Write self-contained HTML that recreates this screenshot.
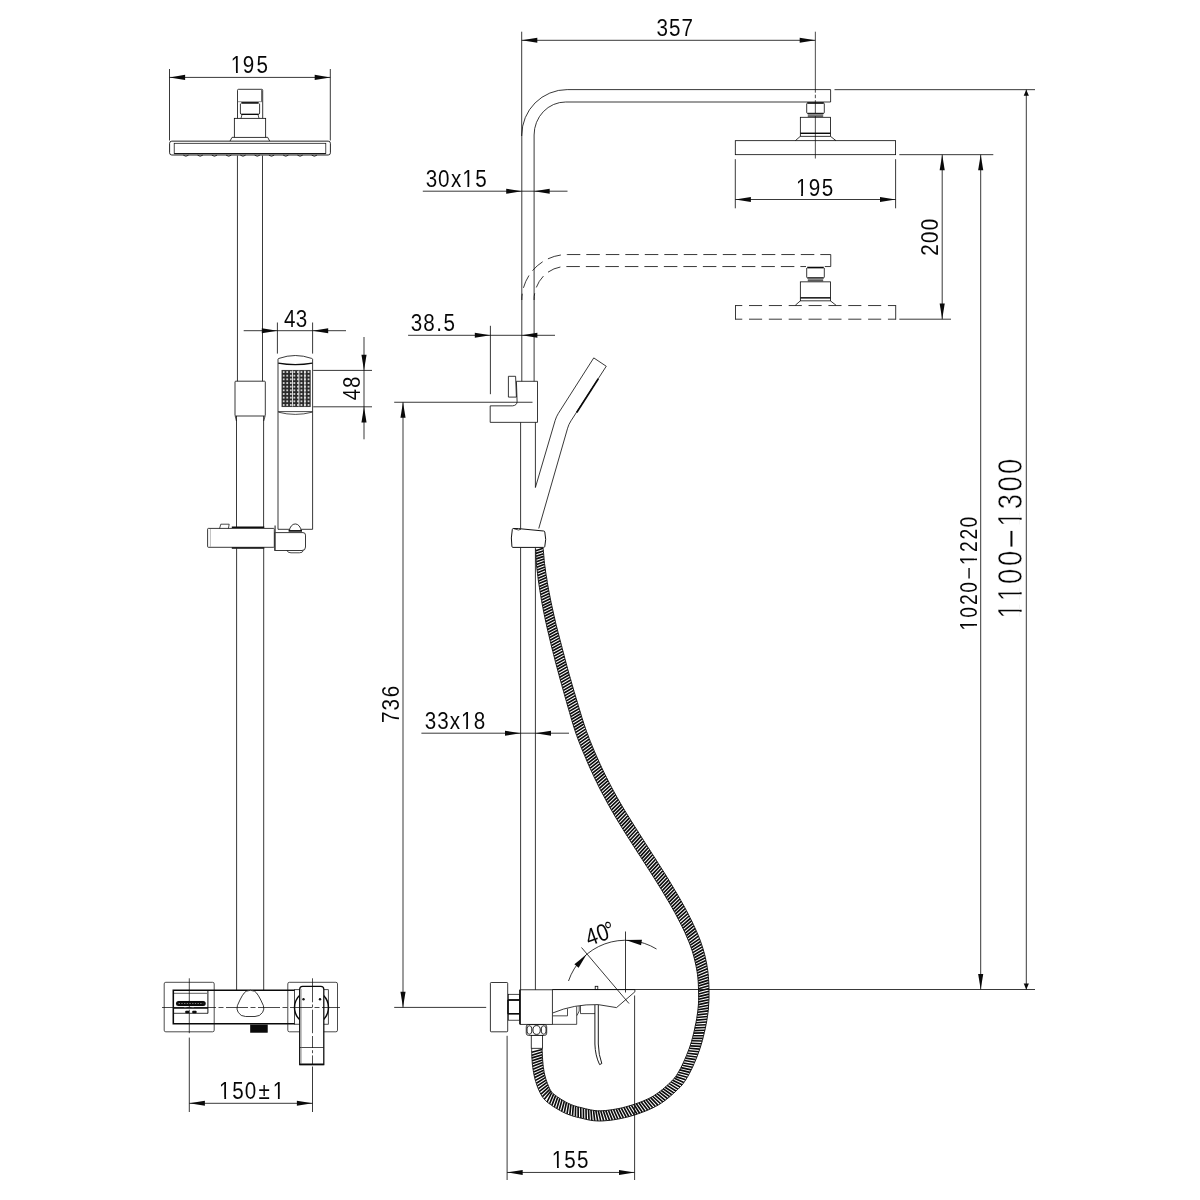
<!DOCTYPE html>
<html lang="en">
<head>
<meta charset="utf-8">
<title>Shower column dimensions</title>
<style>
html,body{margin:0;padding:0;background:#fff;}
body{width:1200px;height:1200px;overflow:hidden;}
svg{display:block;will-change:transform;}
svg text{font-family:'Liberation Sans','DejaVu Sans',sans-serif;paint-order:fill stroke;}
</style>
</head>
<body>
<svg width="1200" height="1200" viewBox="0 0 1200 1200" role="img" aria-label="Shower column with mixer: front and side view with dimensions">
<rect x="0" y="0" width="1200" height="1200" fill="#fff"/>
<g id="front-view">
<line x1="169.5" y1="69" x2="169.5" y2="140.5" stroke="#0c0c0c" stroke-width="0.82"/>
<line x1="330.3" y1="69" x2="330.3" y2="140.5" stroke="#0c0c0c" stroke-width="0.82"/>
<line x1="169.5" y1="77.4" x2="330.3" y2="77.4" stroke="#0c0c0c" stroke-width="0.82"/>
<polygon points="169.5,77.4 185.1,74.85 185.1,79.95" fill="#0a0a0a"/>
<polygon points="330.3,77.4 314.7,79.95 314.7,74.85" fill="#0a0a0a"/>
<g transform="translate(0 73.2)">
<text transform="scale(0.86 1)" x="275.05 289.07 304.88" font-size="24" text-anchor="middle" fill="#050505" stroke="#fff" stroke-width="0.04">195</text>
<rect x="231.21" y="-2.24" width="4.8" height="2.84" fill="#fff"/>
<rect x="237.8" y="-2.24" width="4.42" height="2.84" fill="#fff"/>
</g>
<path d="M237.5 118.3 L237.5 90.3 Q237.5 89.3 238.5 89.3 L261.7 89.3 Q262.7 89.3 262.7 90.3 L262.7 118.3" fill="none" stroke="#0c0c0c" stroke-width="0.82"/>
<line x1="261.6" y1="89.8" x2="261.6" y2="101.6" stroke="#0c0c0c" stroke-width="0.66"/>
<line x1="237.6" y1="101.7" x2="262.6" y2="101.7" stroke="#555" stroke-width="0.66"/>
<line x1="241.3" y1="102.9" x2="258.7" y2="102.9" stroke="#0a0a0a" stroke-width="1.65"/>
<path d="M240.4 103.6 L240.4 113 Q240.4 114.3 241.6 114.3 L258.4 114.3 Q259.6 114.3 259.6 113 L259.6 103.6" fill="none" stroke="#0c0c0c" stroke-width="0.82"/>
<line x1="241.4" y1="114.4" x2="258.6" y2="114.4" stroke="#0c0c0c" stroke-width="1.26"/>
<path d="M242 114.6 L241 118.3 M258 114.6 L259 118.3" fill="none" stroke="#0c0c0c" stroke-width="0.74"/>
<rect x="234.35" y="118.35" width="31.3" height="19" fill="none" stroke="#0c0c0c" stroke-width="0.82"/>
<path d="M232 137.35 L230 141.1 M267.7 137.35 L269.7 141.1 M232 137.35 L234.3 137.35 M265.7 137.35 L267.7 137.35" fill="none" stroke="#0c0c0c" stroke-width="0.82"/>
<rect x="169.6" y="141.15" width="160.8" height="13.85" rx="2.2" fill="none" stroke="#0c0c0c" stroke-width="0.9"/>
<rect x="174.2" y="143.3" width="151.6" height="10.2" fill="none" stroke="#0c0c0c" stroke-width="0.74"/>
<line x1="174.2" y1="153.7" x2="325.8" y2="153.7" stroke="#0c0c0c" stroke-width="0.98"/>
<path d="M183.3 155.2 Q185.9 157.3 188.5 155.2" fill="none" stroke="#0c0c0c" stroke-width="0.82"/>
<path d="M197.57 155.2 Q200.17 157.3 202.77 155.2" fill="none" stroke="#0c0c0c" stroke-width="0.82"/>
<path d="M211.84 155.2 Q214.44 157.3 217.04 155.2" fill="none" stroke="#0c0c0c" stroke-width="0.82"/>
<path d="M226.11 155.2 Q228.71 157.3 231.31 155.2" fill="none" stroke="#0c0c0c" stroke-width="0.82"/>
<path d="M240.38 155.2 Q242.98 157.3 245.58 155.2" fill="none" stroke="#0c0c0c" stroke-width="0.82"/>
<path d="M254.65 155.2 Q257.25 157.3 259.85 155.2" fill="none" stroke="#0c0c0c" stroke-width="0.82"/>
<path d="M268.92 155.2 Q271.52 157.3 274.12 155.2" fill="none" stroke="#0c0c0c" stroke-width="0.82"/>
<path d="M283.19 155.2 Q285.79 157.3 288.39 155.2" fill="none" stroke="#0c0c0c" stroke-width="0.82"/>
<path d="M297.46 155.2 Q300.06 157.3 302.66 155.2" fill="none" stroke="#0c0c0c" stroke-width="0.82"/>
<path d="M311.73 155.2 Q314.33 157.3 316.93 155.2" fill="none" stroke="#0c0c0c" stroke-width="0.82"/>
<line x1="237.45" y1="155.6" x2="237.45" y2="381.2" stroke="#0c0c0c" stroke-width="0.82"/>
<line x1="262.5" y1="155.6" x2="262.5" y2="381.2" stroke="#0c0c0c" stroke-width="0.82"/>
<rect x="235" y="381.2" width="30.3" height="34.8" rx="0.8" fill="none" stroke="#0c0c0c" stroke-width="0.82"/>
<path d="M235.2 416 L236.4 421 M265.1 416 L263.7 421" fill="none" stroke="#0c0c0c" stroke-width="0.74"/>
<line x1="236.5" y1="416" x2="236.5" y2="527" stroke="#0c0c0c" stroke-width="0.82"/>
<line x1="263.6" y1="416" x2="263.6" y2="527" stroke="#0c0c0c" stroke-width="0.82"/>
<line x1="236.6" y1="548.3" x2="236.6" y2="990" stroke="#0c0c0c" stroke-width="0.82"/>
<line x1="263.7" y1="548.3" x2="263.7" y2="990" stroke="#0c0c0c" stroke-width="0.82"/>
<rect x="207.6" y="528.4" width="66.7" height="18.9" rx="0.8" fill="none" stroke="#0c0c0c" stroke-width="0.82"/>
<path d="M219.6 528.4 L220.8 524.2 L229.2 524.2 L228.4 528.4" fill="none" stroke="#0c0c0c" stroke-width="0.74"/>
<line x1="231.8" y1="527.3" x2="264.3" y2="527.3" stroke="#0c0c0c" stroke-width="1.46"/>
<line x1="231.8" y1="547.9" x2="264.3" y2="547.9" stroke="#0c0c0c" stroke-width="1.46"/>
<line x1="210.4" y1="529" x2="210.4" y2="546.8" stroke="#777" stroke-width="0.49"/>
<path d="M274.6 532.6 L303 532.6 Q305.5 532.6 305.5 535.1 L305.5 547 Q305.5 550.5 302 550.5 L274.6 550.5 Z" fill="none" stroke="#0c0c0c" stroke-width="0.82"/>
<line x1="275.1" y1="525.5" x2="275.1" y2="550.5" stroke="#444" stroke-width="1.26"/>
<path d="M289.3 531 A6 8.1 0 0 1 301.2 531" fill="none" stroke="#0c0c0c" stroke-width="0.82"/>
<line x1="288.6" y1="530.9" x2="302" y2="530.9" stroke="#0a0a0a" stroke-width="1.65"/>
<path d="M287 550.5 Q287.6 552.8 291 552.8 L299.4 552.8 Q302.8 552.8 303.3 550.5" fill="none" stroke="#0c0c0c" stroke-width="0.74"/>
<path d="M278 529.3 L278 359.2 Q278 358.7 279 358.4 Q295.3 352.6 311.6 358.4 Q312.6 358.7 312.6 359.2 L312.6 529.3" fill="none" stroke="#0c0c0c" stroke-width="0.82"/>
<line x1="278" y1="529.3" x2="289.6" y2="529.3" stroke="#0c0c0c" stroke-width="0.82"/>
<line x1="301" y1="529.3" x2="312.6" y2="529.3" stroke="#0c0c0c" stroke-width="0.82"/>
<path d="M278.2 363.2 Q295.3 366.2 312.4 363.2" fill="none" stroke="#0c0c0c" stroke-width="1.26"/>
<path d="M278.2 411.6 L312.4 411.6 M278.4 412.2 Q295.3 416.6 312.2 412.2" fill="none" stroke="#0c0c0c" stroke-width="0.74"/>
<defs><pattern id="noz" x="281.9" y="370.2" width="3.55" height="3.66" patternUnits="userSpaceOnUse"><rect x="0" y="0" width="3.55" height="3.66" fill="#2a2a2a"/><rect x="0.95" y="1.0" width="1.75" height="1.75" fill="#fff"/><rect x="1.5" y="1.55" width="0.7" height="0.7" fill="#333"/></pattern></defs>
<rect x="281.9" y="370.2" width="28.4" height="36.6" fill="url(#noz)" stroke="#222" stroke-width="0.49"/>
<line x1="292.5" y1="370.6" x2="292.5" y2="406.4" stroke="#fff" stroke-width="0.82"/>
<line x1="298.9" y1="370.6" x2="298.9" y2="406.4" stroke="#fff" stroke-width="0.82"/>
<line x1="304.9" y1="370.6" x2="304.9" y2="406.4" stroke="#fff" stroke-width="0.82"/>
<line x1="277.4" y1="322.5" x2="277.4" y2="353.6" stroke="#0c0c0c" stroke-width="0.82"/>
<line x1="312.6" y1="322.5" x2="312.6" y2="353.6" stroke="#0c0c0c" stroke-width="0.82"/>
<line x1="243.7" y1="330.7" x2="346" y2="330.7" stroke="#0c0c0c" stroke-width="0.82"/>
<polygon points="277.4,330.7 261.8,333.25 261.8,328.15" fill="#0a0a0a"/>
<polygon points="312.6,330.7 328.2,328.15 328.2,333.25" fill="#0a0a0a"/>
<g transform="translate(0 326.6)">
<text transform="scale(0.86 1)" x="336.86 350.47" font-size="24" text-anchor="middle" fill="#050505" stroke="#fff" stroke-width="0.04">43</text>
</g>
<line x1="313.2" y1="370.4" x2="372" y2="370.4" stroke="#0c0c0c" stroke-width="0.82"/>
<line x1="313.2" y1="406.8" x2="372" y2="406.8" stroke="#0c0c0c" stroke-width="0.82"/>
<line x1="364" y1="337" x2="364" y2="439.3" stroke="#0c0c0c" stroke-width="0.82"/>
<polygon points="364,370.4 361.45,354.8 366.55,354.8" fill="#0a0a0a"/>
<polygon points="364,406.8 366.55,422.4 361.45,422.4" fill="#0a0a0a"/>
<g transform="translate(360.4 0) rotate(-90)">
<text transform="scale(0.86 1)" x="-458.6 -444.53" font-size="24" text-anchor="middle" fill="#050505" stroke="#fff" stroke-width="0.04">48</text>
</g>
<rect x="164.2" y="982.3" width="50" height="49.5" rx="1.6" fill="none" stroke="#0c0c0c" stroke-width="0.74"/>
<rect x="287.8" y="982.3" width="49.7" height="49.5" rx="1.6" fill="none" stroke="#0c0c0c" stroke-width="0.74"/>
<path d="M294.6 990.3 L173.3 990.3 L173.3 1023.8 L294.6 1023.8" fill="none" stroke="#0a0a0a" stroke-width="1.55"/>
<rect x="294.6" y="989.7" width="33.7" height="34.5" fill="none" stroke="#0c0c0c" stroke-width="0.74"/>
<line x1="174" y1="993.3" x2="207" y2="993.3" stroke="#0c0c0c" stroke-width="0.66"/>
<line x1="207.9" y1="990.5" x2="207.9" y2="1013.3" stroke="#0c0c0c" stroke-width="0.98"/>
<line x1="174" y1="1013.3" x2="208" y2="1013.3" stroke="#0c0c0c" stroke-width="0.82"/>
<line x1="174" y1="1008" x2="208" y2="1008" stroke="#0a0a0a" stroke-width="1.46"/>
<rect x="176" y="1001" width="29.7" height="5" rx="2.5" fill="#0c0c0c" stroke="#0c0c0c" stroke-width="0.08"/>
<line x1="178.6" y1="1003.5" x2="203.2" y2="1003.5" stroke="#bbb" stroke-width="0.66" stroke-dasharray="1.4 1.3"/>
<rect x="185.2" y="1010.8" width="4" height="2.5" rx="1" fill="#0c0c0c" stroke="#0c0c0c" stroke-width="0.08"/>
<rect x="192.2" y="1010.8" width="4.4" height="2.5" rx="1" fill="#0c0c0c" stroke="#0c0c0c" stroke-width="0.08"/>
<path d="M246.2 991.2 Q250.4 989.4 254.6 991.2 Q258 993.2 263.4 1005.6 Q264.6 1009.2 262.6 1012.4 Q260 1016.4 255 1016.5 L245.6 1016.5 Q240.6 1016.4 238.2 1012.4 Q236.2 1009.2 237.4 1005.6 Q242.6 993.2 246.2 991.2 Z" fill="#fff" stroke="#0c0c0c" stroke-width="0.82"/>
<rect x="250.2" y="1024.6" width="17.5" height="8.1" fill="#0a0a0a" stroke="#0a0a0a" stroke-width="0.08"/>
<path d="M300 995 A17 17 0 0 0 300 1020" fill="none" stroke="#0a0a0a" stroke-width="1.46"/>
<path d="M323.6 995.6 A17 17 0 0 1 323.6 1019.4" fill="none" stroke="#0a0a0a" stroke-width="1.46"/>
<path d="M302.6 986.3 L320.8 986.3 Q323.8 986.3 323.8 989.3 L323.8 1064.5 L299.7 1064.5 L299.7 989.3 Q299.7 986.3 302.6 986.3 Z" fill="#fff" stroke="#0a0a0a" stroke-width="1.26"/>
<line x1="299.7" y1="1064.4" x2="323.8" y2="1064.4" stroke="#0a0a0a" stroke-width="1.46"/>
<line x1="300" y1="1047.5" x2="323.6" y2="1047.5" stroke="#0c0c0c" stroke-width="0.74"/>
<line x1="301.3" y1="989" x2="301.3" y2="1064" stroke="#666" stroke-width="0.49"/>
<circle cx="303.5" cy="999.2" r="1.2" fill="#111"/><circle cx="320" cy="999.2" r="1.2" fill="#111"/>
<line x1="162" y1="1007.5" x2="340" y2="1007.5" stroke="#0c0c0c" stroke-width="0.74" stroke-dasharray="22 2.5 5 2.5"/>
<line x1="189.3" y1="978.3" x2="189.3" y2="1033.2" stroke="#0c0c0c" stroke-width="0.74" stroke-dasharray="24 2.2 3 2.2"/>
<line x1="312.5" y1="978.3" x2="312.5" y2="1033.2" stroke="#0c0c0c" stroke-width="0.74" stroke-dasharray="24 2.2 3 2.2"/>
<line x1="189.3" y1="1037.6" x2="189.3" y2="1112" stroke="#0c0c0c" stroke-width="0.82"/>
<line x1="312.5" y1="1066.5" x2="312.5" y2="1112" stroke="#0c0c0c" stroke-width="0.82"/>
<line x1="312.5" y1="1036" x2="312.5" y2="1064" stroke="#0c0c0c" stroke-width="0.74" stroke-dasharray="12 2.2 3 2.2"/>
<line x1="189.3" y1="1103.3" x2="312.5" y2="1103.3" stroke="#0c0c0c" stroke-width="0.82"/>
<polygon points="189.3,1103.3 204.9,1100.75 204.9,1105.85" fill="#0a0a0a"/>
<polygon points="312.5,1103.3 296.9,1105.85 296.9,1100.75" fill="#0a0a0a"/>
<g transform="translate(0 1099.2)">
<text transform="scale(0.86 1)" x="261.44 276.74 291.16 307.21 323.77" font-size="24" text-anchor="middle" fill="#050505" stroke="#fff" stroke-width="0.04">150±1</text>
<rect x="219.51" y="-2.24" width="4.8" height="2.84" fill="#fff"/>
<rect x="226.1" y="-2.24" width="4.42" height="2.84" fill="#fff"/>
<rect x="273.11" y="-2.24" width="4.8" height="2.84" fill="#fff"/>
<rect x="279.7" y="-2.24" width="4.42" height="2.84" fill="#fff"/>
</g>
</g>
<g id="side-view">
<line x1="521.7" y1="31.7" x2="521.7" y2="136" stroke="#0c0c0c" stroke-width="0.82"/>
<line x1="815.35" y1="31.7" x2="815.35" y2="158.5" stroke="#0c0c0c" stroke-width="0.74" stroke-dasharray="61 2 3.5 2"/>
<line x1="521.7" y1="40.3" x2="815.3" y2="40.3" stroke="#0c0c0c" stroke-width="0.82"/>
<polygon points="521.7,40.3 537.3,37.75 537.3,42.85" fill="#0a0a0a"/>
<polygon points="815.3,40.3 799.7,42.85 799.7,37.75" fill="#0a0a0a"/>
<g transform="translate(0 35.6)">
<text transform="scale(0.86 1)" x="770.12 784.53 799.19" font-size="24" text-anchor="middle" fill="#050505" stroke="#fff" stroke-width="0.04">357</text>
</g>
<path d="M521.8 381.3 L521.8 135 A45.4 45.4 0 0 1 567.2 89.6 L830.6 89.6 L830.6 102 L565.6 102 A31.5 33 0 0 0 534.1 135 L534.1 381.3" fill="none" stroke="#0c0c0c" stroke-width="0.82"/>
<path d="M521.8 300 A45.4 45.4 0 0 1 567.2 254.55 L830.75 254.55" fill="none" stroke="#0c0c0c" stroke-width="0.82" stroke-dasharray="13.5 6" stroke-dashoffset="7.15"/>
<path d="M534.1 300 A31.5 33 0 0 1 565.6 266.55 L806 266.55" fill="none" stroke="#0c0c0c" stroke-width="0.82" stroke-dasharray="13.5 6" stroke-dashoffset="6.7"/>
<line x1="830.75" y1="254.55" x2="830.75" y2="266.55" stroke="#0c0c0c" stroke-width="0.82"/>
<line x1="824.8" y1="266.55" x2="830.75" y2="266.55" stroke="#0c0c0c" stroke-width="0.82"/>
<line x1="807.2" y1="103" x2="823.8" y2="103" stroke="#0a0a0a" stroke-width="1.65"/>
<path d="M806.7 103.4 L806.7 112.4 Q806.7 113.4 807.7 113.4 L823.3 113.4 Q824.3 113.4 824.3 112.4 L824.3 103.4" fill="none" stroke="#0c0c0c" stroke-width="0.82"/>
<line x1="807.6" y1="113.5" x2="823.4" y2="113.5" stroke="#0c0c0c" stroke-width="1.26"/>
<rect x="807.9" y="113.9" width="15.2" height="2.3" fill="#8a8a8a" stroke="#8a8a8a" stroke-width="0.08"/>
<line x1="807.8" y1="116.3" x2="823.2" y2="116.3" stroke="#0c0c0c" stroke-width="0.74"/>
<rect x="800.35" y="117.3" width="30.1" height="19" fill="none" stroke="#0c0c0c" stroke-width="0.82"/>
<line x1="800.4" y1="133.3" x2="830.4" y2="133.3" stroke="#0a0a0a" stroke-width="1.46"/>
<path d="M800.35 136.3 L795.3 140.7 M830.45 136.3 L836 140.7" fill="none" stroke="#0c0c0c" stroke-width="0.82"/>
<line x1="807.2" y1="267.55" x2="823.8" y2="267.55" stroke="#0a0a0a" stroke-width="1.65"/>
<path d="M806.7 267.95 L806.7 276.95 Q806.7 277.95 807.7 277.95 L823.3 277.95 Q824.3 277.95 824.3 276.95 L824.3 267.95" fill="none" stroke="#0c0c0c" stroke-width="0.82"/>
<line x1="807.6" y1="278.05" x2="823.4" y2="278.05" stroke="#0c0c0c" stroke-width="1.26"/>
<rect x="807.9" y="278.45" width="15.2" height="2.3" fill="#8a8a8a" stroke="#8a8a8a" stroke-width="0.08"/>
<line x1="807.8" y1="280.85" x2="823.2" y2="280.85" stroke="#0c0c0c" stroke-width="0.74"/>
<rect x="800.35" y="281.85" width="30.1" height="19" fill="none" stroke="#0c0c0c" stroke-width="0.82"/>
<line x1="800.4" y1="297.85" x2="830.4" y2="297.85" stroke="#0a0a0a" stroke-width="1.46"/>
<path d="M800.35 300.85 L795.3 305.25 M830.45 300.85 L836 305.25" fill="none" stroke="#0c0c0c" stroke-width="0.82"/>
<rect x="735.3" y="140.67" width="160.3" height="14" fill="none" stroke="#0c0c0c" stroke-width="0.82"/>
<line x1="735.5" y1="305.55" x2="895.7" y2="305.55" stroke="#0c0c0c" stroke-width="0.82" stroke-dasharray="13.1 6.75" stroke-dashoffset="6.35"/>
<line x1="735.5" y1="319.2" x2="895.7" y2="319.2" stroke="#0c0c0c" stroke-width="0.82" stroke-dasharray="13.1 6.75" stroke-dashoffset="6.35"/>
<line x1="735.5" y1="305.1" x2="735.5" y2="319.7" stroke="#0c0c0c" stroke-width="0.82"/>
<line x1="895.7" y1="305.1" x2="895.7" y2="319.7" stroke="#0c0c0c" stroke-width="0.82"/>
<line x1="735.3" y1="159.2" x2="735.3" y2="208.3" stroke="#0c0c0c" stroke-width="0.82"/>
<line x1="895.6" y1="159.2" x2="895.6" y2="208.3" stroke="#0c0c0c" stroke-width="0.82"/>
<line x1="735.3" y1="199.5" x2="895.6" y2="199.5" stroke="#0c0c0c" stroke-width="0.82"/>
<polygon points="735.3,199.5 750.9,196.95 750.9,202.05" fill="#0a0a0a"/>
<polygon points="895.6,199.5 880,202.05 880,196.95" fill="#0a0a0a"/>
<g transform="translate(0 195.6)">
<text transform="scale(0.86 1)" x="932.14 947.21 962.09" font-size="24" text-anchor="middle" fill="#050505" stroke="#fff" stroke-width="0.04">195</text>
<rect x="796.31" y="-2.24" width="4.8" height="2.84" fill="#fff"/>
<rect x="802.9" y="-2.24" width="4.42" height="2.84" fill="#fff"/>
</g>
<line x1="899.3" y1="154.67" x2="993.3" y2="154.67" stroke="#0c0c0c" stroke-width="0.82"/>
<line x1="899.3" y1="319.2" x2="951" y2="319.2" stroke="#0c0c0c" stroke-width="0.82"/>
<line x1="942.2" y1="154.67" x2="942.2" y2="319.2" stroke="#0c0c0c" stroke-width="0.82"/>
<polygon points="942.2,154.67 944.75,170.27 939.65,170.27" fill="#0a0a0a"/>
<polygon points="942.2,319.2 939.65,303.6 944.75,303.6" fill="#0a0a0a"/>
<g transform="translate(938.4 0) rotate(-90)">
<text transform="scale(0.86 1)" x="-290.7 -275.81 -261.16" font-size="24" text-anchor="middle" fill="#050505" stroke="#fff" stroke-width="0.04">200</text>
</g>
<line x1="980.7" y1="154.67" x2="980.7" y2="989.5" stroke="#0c0c0c" stroke-width="0.82"/>
<polygon points="980.7,154.67 983.25,170.27 978.15,170.27" fill="#0a0a0a"/>
<polygon points="980.7,989.5 978.15,973.9 983.25,973.9" fill="#0a0a0a"/>
<g transform="translate(976.5 0) rotate(-90)">
<text transform="scale(0.8 1)" x="-781.48 -765.5 -749.62 -734.12 -716.56 -699.67 -683.25 -667.62 -652.75" font-size="24" text-anchor="middle" fill="#050505" stroke="#fff" stroke-width="0.04">1020-1220</text>
<rect x="-630.15" y="-2.24" width="4.47" height="2.84" fill="#fff"/>
<rect x="-624.01" y="-2.24" width="4.12" height="2.84" fill="#fff"/>
<rect x="-576.45" y="-8.64" width="6.39" height="4.56" fill="#fff"/>
<line x1="-578.5" y1="-7.44" x2="-568" y2="-7.44" stroke="#050505" stroke-width="1.37"/>
<rect x="-564.7" y="-2.24" width="4.47" height="2.84" fill="#fff"/>
<rect x="-558.56" y="-2.24" width="4.12" height="2.84" fill="#fff"/>
</g>
<line x1="834.5" y1="89.67" x2="1035" y2="89.67" stroke="#0c0c0c" stroke-width="0.82"/>
<line x1="1026.3" y1="89.67" x2="1026.3" y2="989.5" stroke="#0c0c0c" stroke-width="0.82"/>
<polygon points="1026.3,89.67 1028.9,95.67 1023.7,95.67" fill="#0a0a0a"/>
<polygon points="1026.3,989.5 1023.7,983.5 1028.9,983.5" fill="#0a0a0a"/>
<g transform="translate(1022.3 0) rotate(-90)">
<text transform="scale(0.785 1)" x="-778.63 -756.4 -734.27 -711.34 -686.31 -661.43 -639.11 -616.43 -593.95" font-size="35" text-anchor="middle" fill="#050505" stroke="#fff" stroke-width="0.62">1100-1300</text>
<rect x="-618.33" y="-3.06" width="6.62" height="3.66" fill="#fff"/>
<rect x="-609.77" y="-3.06" width="5.89" height="3.66" fill="#fff"/>
<rect x="-600.88" y="-3.06" width="6.62" height="3.66" fill="#fff"/>
<rect x="-592.32" y="-3.06" width="5.89" height="3.66" fill="#fff"/>
<rect x="-543.32" y="-12.6" width="9.15" height="6.65" fill="#fff"/>
<line x1="-546.6" y1="-10.85" x2="-530.9" y2="-10.85" stroke="#050505" stroke-width="2"/>
<rect x="-526.33" y="-3.06" width="6.62" height="3.66" fill="#fff"/>
<rect x="-517.77" y="-3.06" width="5.89" height="3.66" fill="#fff"/>
</g>
<line x1="422.8" y1="191.2" x2="567.5" y2="191.2" stroke="#0c0c0c" stroke-width="0.82"/>
<polygon points="521.8,191.2 506.2,193.75 506.2,188.65" fill="#0a0a0a"/>
<polygon points="534.1,191.2 549.7,188.65 549.7,193.75" fill="#0a0a0a"/>
<g transform="translate(0 187.2)">
<text transform="scale(0.86 1)" x="501.86 515.93 530.35 544.12 559.19" font-size="24" text-anchor="middle" fill="#050505" stroke="#fff" stroke-width="0.04">30x15</text>
<rect x="462.61" y="-2.24" width="4.8" height="2.84" fill="#fff"/>
<rect x="469.2" y="-2.24" width="4.42" height="2.84" fill="#fff"/>
</g>
<line x1="490.4" y1="325.8" x2="490.4" y2="394.2" stroke="#0c0c0c" stroke-width="0.82"/>
<line x1="408.1" y1="335.3" x2="555" y2="335.3" stroke="#0c0c0c" stroke-width="0.82"/>
<polygon points="490.4,335.3 474.8,337.85 474.8,332.75" fill="#0a0a0a"/>
<polygon points="521.8,335.3 537.4,332.75 537.4,337.85" fill="#0a0a0a"/>
<g transform="translate(0 330.9)">
<text transform="scale(0.86 1)" x="484.42 498.84 510.58 522.33" font-size="24" text-anchor="middle" fill="#050505" stroke="#fff" stroke-width="0.04">38.5</text>
</g>
<path d="M490.2 405.85 L512.5 405.85 Q517.1 405.4 517.1 401.5 L516.4 381.3 L537.5 381.3 L537.5 422.35 L490.2 422.35 Z" fill="none" stroke="#0c0c0c" stroke-width="0.82"/>
<path d="M508.4 376.3 L515.6 376.3 L516.4 397.1 L508.4 397.1 Z" fill="none" stroke="#0c0c0c" stroke-width="0.82"/>
<line x1="520.6" y1="422.4" x2="520.6" y2="529.5" stroke="#0c0c0c" stroke-width="0.82"/>
<line x1="535.4" y1="422.4" x2="535.4" y2="487.5" stroke="#0c0c0c" stroke-width="0.82"/>
<line x1="520.6" y1="547.6" x2="520.6" y2="989.8" stroke="#0c0c0c" stroke-width="0.82"/>
<line x1="535.4" y1="547.6" x2="535.4" y2="989.8" stroke="#0c0c0c" stroke-width="0.82"/>
<line x1="394.2" y1="402.25" x2="532.5" y2="402.25" stroke="#0c0c0c" stroke-width="0.82"/>
<line x1="394.2" y1="1007.4" x2="486.2" y2="1007.4" stroke="#0c0c0c" stroke-width="0.82"/>
<line x1="403" y1="402.25" x2="403" y2="1007.4" stroke="#0c0c0c" stroke-width="0.82"/>
<polygon points="403,402.25 405.55,417.85 400.45,417.85" fill="#0a0a0a"/>
<polygon points="403,1007.4 400.45,991.8 405.55,991.8" fill="#0a0a0a"/>
<g transform="translate(399.2 0) rotate(-90)">
<text transform="scale(0.86 1)" x="-833.95 -819.53 -804.19" font-size="24" text-anchor="middle" fill="#050505" stroke="#fff" stroke-width="0.04">736</text>
</g>
<line x1="421.4" y1="733.2" x2="569" y2="733.2" stroke="#0c0c0c" stroke-width="0.82"/>
<polygon points="520.6,733.2 505,735.75 505,730.65" fill="#0a0a0a"/>
<polygon points="535.4,733.2 551,730.65 551,735.75" fill="#0a0a0a"/>
<g transform="translate(0 728.9)">
<text transform="scale(0.86 1)" x="500.47 515.23 529.07 542.61 557.44" font-size="24" text-anchor="middle" fill="#050505" stroke="#fff" stroke-width="0.04">33x18</text>
<rect x="461.31" y="-2.24" width="4.8" height="2.84" fill="#fff"/>
<rect x="467.9" y="-2.24" width="4.42" height="2.84" fill="#fff"/>
</g>
<path d="M535.4 487.5 L555.1 420.6 Q556.25 416.7 558.4 413.3 L593.75 357.9 L606.25 366.25 L571 420.8 Q568.75 424.2 567.6 428.2 L538.75 528.5" fill="none" stroke="#0c0c0c" stroke-width="0.82"/>
<line x1="598.3" y1="378.75" x2="576.7" y2="412.5" stroke="#0a0a0a" stroke-width="1.65"/>
<path d="M543.2 548.3L543.3 549.6L543.4 551.3L543.6 553.4L543.8 555.7L544.0 558.1L544.2 560.8L544.5 563.5L544.9 566.2L545.3 569.1L545.7 572.2L546.2 575.4L546.8 578.8L547.3 582.3L547.9 585.7L548.5 589.2L549.1 592.5L549.8 595.8L550.4 599.1L551.1 602.4L551.8 605.7L552.5 609.0L553.3 612.3L554.0 615.7L554.8 619.0L555.5 622.3L556.3 625.6L557.2 628.9L558.0 632.2L558.9 635.5L559.7 638.8L560.6 642.2L561.5 645.5L562.3 648.8L563.2 652.1L564.1 655.4L564.9 658.7L565.8 662.0L566.7 665.3L567.6 668.7L568.5 672.0L569.4 675.3L570.4 678.5L571.3 681.8L572.2 685.1L573.2 688.3L574.1 691.7L575.2 695.1L576.2 698.6L577.3 702.2L578.4 705.9L579.5 709.7L580.7 713.5L581.8 717.3L583.0 721.0L584.2 724.7L585.4 728.2L586.6 731.7L587.9 735.0L589.1 738.3L590.4 741.6L591.7 744.8L593.0 748.0L594.4 751.3L595.8 754.6L597.3 757.9L598.7 761.1L600.2 764.4L601.7 767.7L603.3 771.0L604.9 774.3L606.5 777.5L608.2 780.8L609.9 784.1L611.6 787.4L613.4 790.7L615.2 794.0L617.0 797.3L618.9 800.6L620.8 803.9L622.7 807.1L624.7 810.4L626.7 813.7L628.8 817.0L630.8 820.3L632.9 823.6L635.0 827.0L637.2 830.3L639.2 833.6L641.3 836.9L643.5 840.3L645.6 843.6L647.7 846.9L649.9 850.2L652.0 853.6L654.2 856.9L656.3 860.2L658.4 863.6L660.5 866.9L662.7 870.3L664.8 873.6L666.9 877.0L669.0 880.4L671.0 883.8L673.0 887.1L675.0 890.5L677.0 893.8L679.0 897.2L680.9 900.6L682.8 904.0L684.7 907.4L686.5 910.8L688.3 914.2L690.0 917.6L691.7 921.0L693.3 924.4L694.9 927.8L696.5 931.3L697.9 934.7L699.3 938.1L700.6 941.5L701.7 944.8L702.8 948.1L703.7 951.3L704.6 954.5L705.4 957.7L706.0 960.8L706.7 964.0L707.2 967.2L707.7 970.3L708.1 973.5L708.4 976.6L708.6 979.7L708.8 982.8L708.9 985.9L709.0 988.9L709.0 992.0L709.0 995.0L709.0 998.0L708.9 1000.9L708.7 1003.9L708.5 1007.0L708.3 1010.1L707.9 1013.4L707.4 1016.8L706.8 1020.5L706.1 1024.3L705.3 1028.3L704.4 1032.3L703.4 1036.4L702.4 1040.5L701.2 1044.5L700.0 1048.4L698.7 1052.1L697.3 1055.9L695.8 1059.7L694.2 1063.4L692.6 1067.0L691.0 1070.3L689.4 1073.5L687.8 1076.4L686.3 1078.9L684.8 1081.2L683.4 1083.2L682.0 1085.0L680.5 1086.7L678.9 1088.2L677.3 1089.8L675.4 1091.6L673.5 1093.4L671.3 1095.3L669.1 1097.2L666.7 1099.2L664.1 1101.1L661.4 1103.0L658.6 1104.8L655.6 1106.4L652.5 1108.0L649.2 1109.5L645.7 1111.0L642.2 1112.3L638.6 1113.6L635.0 1114.8L631.4 1115.9L627.9 1116.9L624.4 1117.7L620.8 1118.5L617.2 1119.2L613.6 1119.8L610.1 1120.3L606.6 1120.6L603.2 1120.9L599.9 1121.0L596.7 1120.9L593.7 1120.7L590.8 1120.3L588.1 1119.8L585.5 1119.2L583.2 1118.6L580.9 1118.1L578.8 1117.6L576.7 1117.1L574.8 1116.6L573.0 1116.1L571.3 1115.5L569.6 1114.9L567.9 1114.3L566.2 1113.6L564.5 1112.8L562.6 1111.9L560.7 1110.9L558.8 1109.8L556.9 1108.7L555.1 1107.6L553.3 1106.5L551.7 1105.4L550.3 1104.4L549.0 1103.4L547.8 1102.6L546.7 1101.7L545.7 1100.7L544.6 1099.7L543.7 1098.5L542.7 1097.3L541.8 1095.9L540.9 1094.3L540.0 1092.6L539.2 1090.8L538.4 1089.0L537.6 1087.1L536.9 1085.2L536.3 1083.3L535.7 1081.5L535.2 1079.7L534.7 1077.9L534.3 1076.1L533.9 1074.3L533.6 1072.6L533.3 1070.8L533.0 1069.1L532.8 1067.3L532.5 1065.5L532.3 1063.6L532.2 1061.7L532.1 1059.8L531.9 1058.0L531.8 1056.3L531.8 1054.8L531.7 1053.5L531.7 1052.4L531.6 1051.4L531.6 1050.6L531.6 1049.9L531.7 1049.3L531.7 1048.9L531.7 1048.6L531.7 1048.3L542.3 1048.7L542.3 1049.0L542.3 1049.4L542.3 1049.8L542.2 1050.2L542.2 1050.7L542.2 1051.3L542.3 1052.1L542.3 1053.1L542.4 1054.3L542.4 1055.8L542.5 1057.4L542.6 1059.2L542.7 1060.9L542.9 1062.7L543.0 1064.4L543.2 1066.1L543.4 1067.6L543.7 1069.2L543.9 1070.8L544.2 1072.4L544.5 1074.0L544.9 1075.5L545.3 1077.0L545.7 1078.5L546.2 1080.1L546.8 1081.8L547.4 1083.5L548.1 1085.1L548.7 1086.7L549.4 1088.2L550.1 1089.6L550.8 1090.7L551.4 1091.6L551.9 1092.4L552.5 1092.9L553.0 1093.5L553.6 1094.0L554.3 1094.5L555.2 1095.2L556.3 1096.0L557.6 1097.0L559.1 1098.0L560.6 1099.0L562.3 1100.0L564.0 1101.0L565.7 1102.0L567.4 1102.9L568.9 1103.6L570.4 1104.3L571.8 1104.9L573.2 1105.4L574.6 1105.9L576.0 1106.3L577.6 1106.8L579.3 1107.2L581.2 1107.6L583.3 1108.2L585.6 1108.7L587.9 1109.3L590.2 1109.8L592.6 1110.2L595.0 1110.6L597.5 1110.8L600.1 1110.8L602.9 1110.7L605.8 1110.5L609.0 1110.1L612.2 1109.7L615.6 1109.1L618.9 1108.5L622.2 1107.8L625.5 1106.9L628.7 1106.0L632.1 1105.0L635.4 1103.9L638.8 1102.7L642.1 1101.5L645.2 1100.1L648.2 1098.8L651.0 1097.4L653.6 1095.9L656.0 1094.3L658.3 1092.7L660.5 1091.0L662.7 1089.3L664.7 1087.5L666.7 1085.8L668.6 1084.0L670.3 1082.4L671.8 1081.0L673.1 1079.6L674.3 1078.2L675.4 1076.8L676.5 1075.3L677.7 1073.4L679.0 1071.2L680.4 1068.6L681.9 1065.7L683.4 1062.5L684.9 1059.2L686.4 1055.7L687.8 1052.1L689.2 1048.6L690.4 1045.0L691.5 1041.5L692.5 1037.7L693.5 1033.9L694.4 1030.0L695.2 1026.1L696.0 1022.3L696.7 1018.6L697.2 1015.2L697.7 1011.9L698.0 1008.9L698.3 1006.0L698.5 1003.2L698.6 1000.5L698.6 997.7L698.6 994.9L698.6 992.0L698.5 989.1L698.4 986.2L698.3 983.3L698.1 980.4L697.8 977.5L697.5 974.6L697.1 971.7L696.6 968.8L696.0 965.9L695.4 963.0L694.7 960.1L694.0 957.1L693.2 954.2L692.3 951.2L691.3 948.2L690.2 945.1L689.0 942.0L687.7 938.9L686.3 935.7L684.9 932.4L683.3 929.1L681.7 925.8L680.0 922.5L678.3 919.2L676.6 915.9L674.9 912.7L673.0 909.4L671.2 906.1L669.3 902.8L667.3 899.5L665.3 896.2L663.4 892.9L661.4 889.6L659.3 886.3L657.3 883.0L655.2 879.7L653.1 876.3L651.0 873.0L648.8 869.7L646.7 866.4L644.6 863.0L642.4 859.7L640.3 856.4L638.1 853.1L636.0 849.8L633.8 846.5L631.7 843.1L629.6 839.8L627.4 836.4L625.3 833.1L623.2 829.7L621.2 826.4L619.1 823.0L617.0 819.6L615.0 816.2L613.1 812.9L611.1 809.5L609.2 806.1L607.3 802.7L605.5 799.3L603.7 795.9L601.9 792.6L600.1 789.2L598.4 785.8L596.8 782.4L595.1 779.0L593.5 775.7L592.0 772.3L590.4 768.9L588.9 765.6L587.4 762.2L586.0 758.8L584.6 755.5L583.2 752.2L581.8 748.9L580.5 745.6L579.2 742.2L577.9 738.8L576.6 735.3L575.4 731.8L574.2 728.1L573.0 724.3L571.8 720.4L570.7 716.5L569.6 712.6L568.5 708.8L567.4 705.0L566.4 701.4L565.4 697.9L564.4 694.5L563.5 691.1L562.5 687.8L561.6 684.5L560.7 681.2L559.8 678.0L558.9 674.6L558.0 671.3L557.1 667.9L556.2 664.6L555.3 661.3L554.5 657.9L553.6 654.6L552.8 651.3L551.9 647.9L551.1 644.6L550.3 641.2L549.5 637.9L548.7 634.5L547.9 631.1L547.1 627.8L546.4 624.4L545.6 621.0L544.9 617.7L544.2 614.3L543.5 610.9L542.9 607.6L542.2 604.2L541.6 600.8L541.0 597.5L540.5 594.1L539.9 590.7L539.4 587.2L538.8 583.6L538.3 580.1L537.9 576.7L537.5 573.3L537.1 570.2L536.7 567.2L536.5 564.3L536.2 561.5L536.1 558.8L535.9 556.2L535.8 553.9L535.7 551.8L535.7 550.1L535.6 548.7Z" fill="#fff" stroke="none"/>
<path d="M543.1 548.3L535.8 550.7M543.3 551.0L535.9 553.4M543.5 553.7L536.1 556.2M543.7 556.4L536.2 558.9M544.0 559.0L536.4 561.7M544.2 561.7L536.6 564.5M544.5 564.3L536.8 567.2M544.9 566.9L537.2 570.0M545.3 569.6L537.5 572.7M545.6 572.2L537.8 575.5M546.0 574.9L538.2 578.2M546.5 577.6L538.6 580.9M546.9 580.2L539.0 583.6M547.3 582.9L539.4 586.4M547.8 585.5L539.8 589.1M548.3 588.2L540.2 591.8M548.7 590.8L540.6 594.5M549.2 593.5L541.1 597.2M549.8 596.1L541.6 599.9M550.3 598.7L542.1 602.7M550.8 601.4L542.6 605.4M551.4 604.0L543.1 608.0M551.9 606.7L543.6 610.7M552.5 609.3L544.2 613.4M553.1 611.9L544.7 616.1M553.7 614.5L545.3 618.8M554.3 617.2L545.8 621.5M554.9 619.8L546.4 624.2M555.5 622.4L547.0 626.9M556.1 625.0L547.6 629.5M556.8 627.7L548.3 632.2M557.4 630.3L548.9 634.9M558.1 632.9L549.5 637.5M558.8 635.5L550.2 640.2M559.4 638.1L550.8 642.9M560.1 640.8L551.5 645.5M560.8 643.4L552.1 648.2M561.5 646.0L552.8 650.8M562.2 648.6L553.4 653.5M562.9 651.2L554.1 656.1M563.6 653.9L554.8 658.8M564.2 656.5L555.5 661.4M564.9 659.1L556.2 664.0M565.6 661.7L556.9 666.7M566.3 664.3L557.6 669.3M567.1 666.9L558.3 672.0M567.8 669.6L559.0 674.6M568.5 672.2L559.7 677.2M569.2 674.8L560.4 679.9M569.9 677.4L561.1 682.5M570.7 680.0L561.9 685.1M571.4 682.6L562.6 687.8M572.2 685.2L563.4 690.4M572.9 687.8L564.1 693.0M573.7 690.4L564.8 695.6M574.4 693.0L565.6 698.3M575.2 695.6L566.4 700.9M576.0 698.2L567.1 703.5M576.8 700.8L567.8 706.1M577.6 703.4L568.6 708.7M578.3 706.0L569.3 711.4M579.1 708.6L570.1 714.0M579.9 711.2L570.8 716.6M580.6 713.8L571.6 719.3M581.4 716.3L572.4 721.9M582.2 718.9L573.2 724.5M583.0 721.5L574.0 727.2M583.8 724.0L574.9 729.8M584.7 726.6L575.7 732.4M585.6 729.1L576.7 735.1M586.5 731.6L577.6 737.7M587.4 734.1L578.6 740.3M588.3 736.6L579.5 742.8M589.3 739.1L580.6 745.4M590.3 741.6L581.6 748.0M591.3 744.0L582.6 750.6M592.3 746.6L583.7 753.1M593.4 749.0L584.7 755.6M594.4 751.5L585.8 758.1M595.5 754.0L586.9 760.7M596.5 756.5L588.0 763.2M597.6 758.9L589.1 765.7M598.7 761.4L590.2 768.2M599.8 763.8L591.4 770.7M601.0 766.3L592.5 773.2M602.1 768.7L593.7 775.7M603.2 771.1L594.8 778.2M604.4 773.5L596.0 780.7M605.6 775.9L597.2 783.2M606.8 778.3L598.5 785.6M608.0 780.7L599.7 788.1M609.2 783.1L601.0 790.6M610.5 785.5L602.2 793.0M611.8 787.9L603.5 795.4M613.0 790.2L604.8 797.9M614.3 792.6L606.1 800.3M615.6 794.9L607.4 802.7M616.9 797.3L608.8 805.1M618.3 799.6L610.1 807.5M619.6 802.0L611.5 809.9M621.0 804.3L612.9 812.3M622.3 806.6L614.2 814.7M623.7 808.9L615.6 817.0M625.1 811.2L617.0 819.4M626.5 813.5L618.5 821.8M627.9 815.8L619.9 824.1M629.3 818.1L621.3 826.4M630.7 820.4L622.8 828.8M632.2 822.6L624.2 831.1M633.6 824.9L625.7 833.4M635.1 827.2L627.1 835.7M636.5 829.5L628.6 838.0M638.0 831.8L630.0 840.3M639.4 834.1L631.5 842.6M640.9 836.4L633.0 844.9M642.3 838.7L634.4 847.2M643.8 841.0L635.9 849.5M645.3 843.3L637.4 851.8M646.7 845.5L638.9 854.1M648.2 847.8L640.4 856.4M649.7 850.1L641.9 858.6M651.2 852.4L643.3 860.9M652.6 854.7L644.8 863.2M654.1 857.0L646.3 865.5M655.6 859.3L647.7 867.8M657.0 861.6L649.2 870.1M658.5 863.9L650.6 872.3M660.0 866.2L652.1 874.6M661.4 868.5L653.6 876.9M662.9 870.8L655.0 879.2M664.3 873.1L656.5 881.5M665.8 875.4L657.9 883.8M667.2 877.8L659.3 886.1M668.7 880.1L660.7 888.4M670.1 882.4L662.2 890.7M671.5 884.8L663.5 893.0M672.9 887.2L664.9 895.3M674.3 889.5L666.3 897.6M675.7 891.9L667.7 899.9M677.1 894.2L669.0 902.3M678.5 896.6L670.4 904.6M679.9 899.0L671.8 906.9M681.2 901.4L673.1 909.3M682.6 903.8L674.4 911.6M683.9 906.2L675.6 913.9M685.2 908.6L676.9 916.3M686.5 911.1L678.2 918.7M687.8 913.6L679.4 921.0M689.1 916.0L680.6 923.5M690.3 918.5L681.8 925.8M691.5 920.9L683.0 928.2M692.7 923.5L684.1 930.6M693.9 925.9L685.3 933.1M695.1 928.5L686.4 935.5M696.2 931.0L687.4 937.9M697.4 933.6L688.4 940.3M698.4 936.1L689.5 942.8M699.5 938.8L690.4 945.2M700.5 941.5L691.2 947.7M701.4 944.2L692.0 950.1M702.3 946.9L692.8 952.6M703.1 949.5L693.6 955.2M703.9 952.2L694.3 957.7M704.6 955.0L694.9 960.2M705.3 957.7L695.5 962.8M705.9 960.5L696.0 965.3M706.4 963.3L696.5 967.9M706.9 966.1L696.9 970.4M707.3 968.8L697.4 973.1M707.7 971.6L697.7 975.7M708.1 974.4L698.0 978.2M708.3 977.3L698.2 980.8M708.5 980.1L698.4 983.4M708.7 982.9L698.5 986.0M708.8 985.7L698.6 988.7M708.9 988.5L698.7 991.3M708.9 991.3L698.7 994.0M708.9 994.1L698.7 996.6M708.9 996.9L698.7 999.3M708.8 999.7L698.6 1001.9M708.7 1002.4L698.5 1004.6M708.6 1005.2L698.3 1007.2M708.3 1008.1L698.1 1009.8M708.1 1010.9L697.7 1012.3M707.7 1013.7L697.4 1014.9M707.3 1016.5L696.9 1017.5M706.9 1019.3L696.5 1020.1M706.4 1022.0L696.0 1022.8M705.9 1024.7L695.5 1025.3M705.3 1027.5L694.9 1027.9M704.8 1030.2L694.4 1030.6M704.1 1032.9L693.8 1033.1M703.5 1035.7L693.1 1035.7M702.8 1038.3L692.5 1038.3M702.1 1041.0L691.7 1040.8M701.4 1043.8L691.0 1043.3M700.6 1046.4L690.2 1045.9M699.7 1049.1L689.3 1048.3M698.8 1051.8L688.4 1050.8M697.8 1054.4L687.5 1053.3M696.8 1057.0L686.5 1055.7M695.7 1059.6L685.5 1058.1M694.6 1062.2L684.4 1060.5M693.5 1064.7L683.3 1063.0M692.3 1067.3L682.2 1065.3M691.1 1069.9L681.0 1067.6M689.8 1072.4L679.8 1069.9M688.5 1074.8L678.5 1072.3M687.1 1077.3L677.2 1074.5M685.6 1079.8L675.8 1076.6M683.8 1082.5L674.4 1078.3M682.0 1084.8L672.7 1080.2M680.0 1087.0L671.0 1081.9M677.9 1089.1L669.2 1083.6M675.9 1091.0L667.2 1085.4M673.8 1092.9L665.2 1087.2M671.7 1094.8L663.3 1088.9M669.6 1096.7L661.3 1090.5M667.4 1098.5L659.3 1092.1M665.1 1100.3L657.2 1093.6M662.8 1101.9L655.0 1095.2M660.4 1103.5L652.8 1096.5M657.9 1105.1L650.7 1097.6M655.3 1106.5L648.4 1098.8M652.7 1107.8L646.1 1099.8M650.1 1109.0L643.8 1100.8M647.6 1110.1L641.3 1101.9M644.9 1111.2L638.9 1102.8M642.3 1112.2L636.4 1103.7M639.6 1113.2L634.0 1104.5M637.0 1114.0L631.4 1105.4M634.3 1114.9L628.9 1106.1M631.6 1115.7L626.4 1106.8M628.8 1116.5L623.9 1107.4M626.2 1117.2L621.3 1108.1M623.4 1117.8L618.7 1108.6M620.6 1118.4L616.2 1109.1M617.8 1119.0L613.6 1109.5M615.1 1119.4L611.0 1110.0M612.3 1119.9L608.4 1110.3M609.5 1120.2L605.8 1110.6M606.6 1120.5L603.3 1110.8M603.7 1120.8L600.8 1110.9M600.7 1120.9L598.3 1110.9M597.7 1120.9L595.9 1110.7M594.7 1120.7L593.5 1110.4M591.8 1120.3L591.0 1110.0M589.0 1119.8L588.5 1109.5M586.2 1119.2L586.0 1108.9M583.5 1118.6L583.4 1108.3M580.9 1118.0L580.7 1107.6M578.2 1117.3L578.1 1107.0M575.4 1116.6L575.6 1106.3M572.5 1115.8L573.3 1105.5M569.8 1114.9L570.9 1104.6M567.0 1113.8L568.7 1103.6M564.3 1112.6L566.4 1102.5M561.7 1111.3L564.3 1101.3M559.2 1109.9L562.0 1100.0M556.8 1108.5L559.8 1098.6M554.3 1107.0L557.7 1097.2M551.9 1105.4L555.6 1095.6M549.6 1103.7L553.6 1094.1M547.1 1101.9L551.8 1092.5M544.3 1099.3L550.9 1091.1M542.4 1096.6L549.8 1089.3M540.9 1094.1L548.7 1087.1M539.5 1091.3L547.8 1084.9M538.4 1088.7L546.9 1082.4M537.3 1085.9L546.1 1080.1M536.4 1083.3L545.3 1077.6M535.5 1080.4L544.7 1075.2M534.7 1077.6L544.1 1072.7M534.1 1074.8L543.7 1070.3M533.6 1071.9L543.4 1067.7M533.1 1069.2L543.0 1065.1M532.7 1066.3L542.7 1062.6M532.4 1063.5L542.5 1060.0M532.2 1060.7L542.4 1057.4M532.0 1057.9L542.3 1054.7M531.9 1055.2L542.1 1052.0M531.7 1052.2L542.1 1049.5" fill="none" stroke="#0c0c0c" stroke-width="1.65"/>
<path d="M543.2 548.3L543.3 549.6L543.4 551.3L543.6 553.4L543.8 555.7L544.0 558.1L544.2 560.8L544.5 563.5L544.9 566.2L545.3 569.1L545.7 572.2L546.2 575.4L546.8 578.8L547.3 582.3L547.9 585.7L548.5 589.2L549.1 592.5L549.8 595.8L550.4 599.1L551.1 602.4L551.8 605.7L552.5 609.0L553.3 612.3L554.0 615.7L554.8 619.0L555.5 622.3L556.3 625.6L557.2 628.9L558.0 632.2L558.9 635.5L559.7 638.8L560.6 642.2L561.5 645.5L562.3 648.8L563.2 652.1L564.1 655.4L564.9 658.7L565.8 662.0L566.7 665.3L567.6 668.7L568.5 672.0L569.4 675.3L570.4 678.5L571.3 681.8L572.2 685.1L573.2 688.3L574.1 691.7L575.2 695.1L576.2 698.6L577.3 702.2L578.4 705.9L579.5 709.7L580.7 713.5L581.8 717.3L583.0 721.0L584.2 724.7L585.4 728.2L586.6 731.7L587.9 735.0L589.1 738.3L590.4 741.6L591.7 744.8L593.0 748.0L594.4 751.3L595.8 754.6L597.3 757.9L598.7 761.1L600.2 764.4L601.7 767.7L603.3 771.0L604.9 774.3L606.5 777.5L608.2 780.8L609.9 784.1L611.6 787.4L613.4 790.7L615.2 794.0L617.0 797.3L618.9 800.6L620.8 803.9L622.7 807.1L624.7 810.4L626.7 813.7L628.8 817.0L630.8 820.3L632.9 823.6L635.0 827.0L637.2 830.3L639.2 833.6L641.3 836.9L643.5 840.3L645.6 843.6L647.7 846.9L649.9 850.2L652.0 853.6L654.2 856.9L656.3 860.2L658.4 863.6L660.5 866.9L662.7 870.3L664.8 873.6L666.9 877.0L669.0 880.4L671.0 883.8L673.0 887.1L675.0 890.5L677.0 893.8L679.0 897.2L680.9 900.6L682.8 904.0L684.7 907.4L686.5 910.8L688.3 914.2L690.0 917.6L691.7 921.0L693.3 924.4L694.9 927.8L696.5 931.3L697.9 934.7L699.3 938.1L700.6 941.5L701.7 944.8L702.8 948.1L703.7 951.3L704.6 954.5L705.4 957.7L706.0 960.8L706.7 964.0L707.2 967.2L707.7 970.3L708.1 973.5L708.4 976.6L708.6 979.7L708.8 982.8L708.9 985.9L709.0 988.9L709.0 992.0L709.0 995.0L709.0 998.0L708.9 1000.9L708.7 1003.9L708.5 1007.0L708.3 1010.1L707.9 1013.4L707.4 1016.8L706.8 1020.5L706.1 1024.3L705.3 1028.3L704.4 1032.3L703.4 1036.4L702.4 1040.5L701.2 1044.5L700.0 1048.4L698.7 1052.1L697.3 1055.9L695.8 1059.7L694.2 1063.4L692.6 1067.0L691.0 1070.3L689.4 1073.5L687.8 1076.4L686.3 1078.9L684.8 1081.2L683.4 1083.2L682.0 1085.0L680.5 1086.7L678.9 1088.2L677.3 1089.8L675.4 1091.6L673.5 1093.4L671.3 1095.3L669.1 1097.2L666.7 1099.2L664.1 1101.1L661.4 1103.0L658.6 1104.8L655.6 1106.4L652.5 1108.0L649.2 1109.5L645.7 1111.0L642.2 1112.3L638.6 1113.6L635.0 1114.8L631.4 1115.9L627.9 1116.9L624.4 1117.7L620.8 1118.5L617.2 1119.2L613.6 1119.8L610.1 1120.3L606.6 1120.6L603.2 1120.9L599.9 1121.0L596.7 1120.9L593.7 1120.7L590.8 1120.3L588.1 1119.8L585.5 1119.2L583.2 1118.6L580.9 1118.1L578.8 1117.6L576.7 1117.1L574.8 1116.6L573.0 1116.1L571.3 1115.5L569.6 1114.9L567.9 1114.3L566.2 1113.6L564.5 1112.8L562.6 1111.9L560.7 1110.9L558.8 1109.8L556.9 1108.7L555.1 1107.6L553.3 1106.5L551.7 1105.4L550.3 1104.4L549.0 1103.4L547.8 1102.6L546.7 1101.7L545.7 1100.7L544.6 1099.7L543.7 1098.5L542.7 1097.3L541.8 1095.9L540.9 1094.3L540.0 1092.6L539.2 1090.8L538.4 1089.0L537.6 1087.1L536.9 1085.2L536.3 1083.3L535.7 1081.5L535.2 1079.7L534.7 1077.9L534.3 1076.1L533.9 1074.3L533.6 1072.6L533.3 1070.8L533.0 1069.1L532.8 1067.3L532.5 1065.5L532.3 1063.6L532.2 1061.7L532.1 1059.8L531.9 1058.0L531.8 1056.3L531.8 1054.8L531.7 1053.5L531.7 1052.4L531.6 1051.4L531.6 1050.6L531.6 1049.9L531.7 1049.3L531.7 1048.9L531.7 1048.6L531.7 1048.3" fill="none" stroke="#0c0c0c" stroke-width="0.95" stroke-linejoin="round"/>
<path d="M535.6 548.7L535.7 550.1L535.7 551.8L535.8 553.9L535.9 556.2L536.1 558.8L536.2 561.5L536.5 564.3L536.7 567.2L537.1 570.2L537.5 573.3L537.9 576.7L538.3 580.1L538.8 583.6L539.4 587.2L539.9 590.7L540.5 594.1L541.0 597.5L541.6 600.8L542.2 604.2L542.9 607.6L543.5 610.9L544.2 614.3L544.9 617.7L545.6 621.0L546.4 624.4L547.1 627.8L547.9 631.1L548.7 634.5L549.5 637.9L550.3 641.2L551.1 644.6L551.9 647.9L552.8 651.3L553.6 654.6L554.5 657.9L555.3 661.3L556.2 664.6L557.1 667.9L558.0 671.3L558.9 674.6L559.8 678.0L560.7 681.2L561.6 684.5L562.5 687.8L563.5 691.1L564.4 694.5L565.4 697.9L566.4 701.4L567.4 705.0L568.5 708.8L569.6 712.6L570.7 716.5L571.8 720.4L573.0 724.3L574.2 728.1L575.4 731.8L576.6 735.3L577.9 738.8L579.2 742.2L580.5 745.6L581.8 748.9L583.2 752.2L584.6 755.5L586.0 758.8L587.4 762.2L588.9 765.6L590.4 768.9L592.0 772.3L593.5 775.7L595.1 779.0L596.8 782.4L598.4 785.8L600.1 789.2L601.9 792.6L603.7 795.9L605.5 799.3L607.3 802.7L609.2 806.1L611.1 809.5L613.1 812.9L615.0 816.2L617.0 819.6L619.1 823.0L621.2 826.4L623.2 829.7L625.3 833.1L627.4 836.4L629.6 839.8L631.7 843.1L633.8 846.5L636.0 849.8L638.1 853.1L640.3 856.4L642.4 859.7L644.6 863.0L646.7 866.4L648.8 869.7L651.0 873.0L653.1 876.3L655.2 879.7L657.3 883.0L659.3 886.3L661.4 889.6L663.4 892.9L665.3 896.2L667.3 899.5L669.3 902.8L671.2 906.1L673.0 909.4L674.9 912.7L676.6 915.9L678.3 919.2L680.0 922.5L681.7 925.8L683.3 929.1L684.9 932.4L686.3 935.7L687.7 938.9L689.0 942.0L690.2 945.1L691.3 948.2L692.3 951.2L693.2 954.2L694.0 957.1L694.7 960.1L695.4 963.0L696.0 965.9L696.6 968.8L697.1 971.7L697.5 974.6L697.8 977.5L698.1 980.4L698.3 983.3L698.4 986.2L698.5 989.1L698.6 992.0L698.6 994.9L698.6 997.7L698.6 1000.5L698.5 1003.2L698.3 1006.0L698.0 1008.9L697.7 1011.9L697.2 1015.2L696.7 1018.6L696.0 1022.3L695.2 1026.1L694.4 1030.0L693.5 1033.9L692.5 1037.7L691.5 1041.5L690.4 1045.0L689.2 1048.6L687.8 1052.1L686.4 1055.7L684.9 1059.2L683.4 1062.5L681.9 1065.7L680.4 1068.6L679.0 1071.2L677.7 1073.4L676.5 1075.3L675.4 1076.8L674.3 1078.2L673.1 1079.6L671.8 1081.0L670.3 1082.4L668.6 1084.0L666.7 1085.8L664.7 1087.5L662.7 1089.3L660.5 1091.0L658.3 1092.7L656.0 1094.3L653.6 1095.9L651.0 1097.4L648.2 1098.8L645.2 1100.1L642.1 1101.5L638.8 1102.7L635.4 1103.9L632.1 1105.0L628.7 1106.0L625.5 1106.9L622.2 1107.8L618.9 1108.5L615.6 1109.1L612.2 1109.7L609.0 1110.1L605.8 1110.5L602.9 1110.7L600.1 1110.8L597.5 1110.8L595.0 1110.6L592.6 1110.2L590.2 1109.8L587.9 1109.3L585.6 1108.7L583.3 1108.2L581.2 1107.6L579.3 1107.2L577.6 1106.8L576.0 1106.3L574.6 1105.9L573.2 1105.4L571.8 1104.9L570.4 1104.3L568.9 1103.6L567.4 1102.9L565.7 1102.0L564.0 1101.0L562.3 1100.0L560.6 1099.0L559.1 1098.0L557.6 1097.0L556.3 1096.0L555.2 1095.2L554.3 1094.5L553.6 1094.0L553.0 1093.5L552.5 1092.9L551.9 1092.4L551.4 1091.6L550.8 1090.7L550.1 1089.6L549.4 1088.2L548.7 1086.7L548.1 1085.1L547.4 1083.5L546.8 1081.8L546.2 1080.1L545.7 1078.5L545.3 1077.0L544.9 1075.5L544.5 1074.0L544.2 1072.4L543.9 1070.8L543.7 1069.2L543.4 1067.6L543.2 1066.1L543.0 1064.4L542.9 1062.7L542.7 1060.9L542.6 1059.2L542.5 1057.4L542.4 1055.8L542.4 1054.3L542.3 1053.1L542.3 1052.1L542.2 1051.3L542.2 1050.7L542.2 1050.2L542.3 1049.8L542.3 1049.4L542.3 1049.0L542.3 1048.7" fill="none" stroke="#0c0c0c" stroke-width="0.95" stroke-linejoin="round"/>
<path d="M513.3 528.5 L518.5 528.6 L543.6 531 Q544.6 531 544.8 532 Q546.6 539.5 544.8 546.4 Q544.6 547.4 543.6 547.4 L513 547.4 Q512 547.4 511.9 546.4 Q510.6 538 512.3 529.5 Q512.5 528.5 513.3 528.5 Z" fill="#fff" stroke="#0c0c0c" stroke-width="0.98"/>
<path d="M513.5 528.6 L518.5 530 L521 529.2" fill="none" stroke="#0c0c0c" stroke-width="0.74"/>
<rect x="490.4" y="982.5" width="17.3" height="49.3" rx="0.8" fill="none" stroke="#0c0c0c" stroke-width="0.82"/>
<rect x="508.3" y="994.3" width="11.1" height="5.7" fill="none" stroke="#0c0c0c" stroke-width="0.74"/>
<rect x="508" y="1000" width="11.6" height="13.75" fill="none" stroke="#0c0c0c" stroke-width="0.74"/>
<rect x="508.3" y="1013.75" width="11.1" height="6.45" fill="none" stroke="#0c0c0c" stroke-width="0.74"/>
<line x1="508" y1="1000" x2="519.6" y2="1000" stroke="#0a0a0a" stroke-width="1.55"/>
<line x1="508" y1="1013.75" x2="519.6" y2="1013.75" stroke="#0a0a0a" stroke-width="1.55"/>
<line x1="508.1" y1="1000" x2="508.1" y2="1013.75" stroke="#0a0a0a" stroke-width="1.36"/>
<rect x="520.2" y="989.8" width="32.15" height="34.55" fill="none" stroke="#0c0c0c" stroke-width="0.82"/>
<line x1="519.9" y1="989.8" x2="519.9" y2="1024.35" stroke="#0a0a0a" stroke-width="1.46"/>
<path d="M552.35 989.6 L634.9 989.6 L634.9 991.8 L616.5 1007.6 L598 1004.6 Q574 1004 552.9 1012.9" fill="none" stroke="#0c0c0c" stroke-width="0.82"/>
<path d="M552.9 1015.85 L567.5 1015.85 L567.5 1008.7" fill="none" stroke="#0c0c0c" stroke-width="0.74"/>
<path d="M576.7 1006.6 L576.7 1024.35 L552.35 1024.35 M579.2 1006 L579.2 1011 L577 1015.5" fill="none" stroke="#0c0c0c" stroke-width="0.74"/>
<path d="M580.5 1005.6 L580.5 1013.6 L595 1013.6" fill="none" stroke="#0c0c0c" stroke-width="0.74"/>
<path d="M594.9 1005 L594.9 1044 Q595.2 1055.5 599.6 1064.6 L601.8 1063.5 Q598.6 1055 598.3 1044 L598.3 1005" fill="none" stroke="#0c0c0c" stroke-width="0.94"/>
<rect x="595.2" y="986.3" width="2.6" height="3.3" fill="none" stroke="#0c0c0c" stroke-width="0.82"/>
<line x1="552.4" y1="989.5" x2="1035" y2="989.5" stroke="#0c0c0c" stroke-width="0.82"/>
<rect x="526.25" y="1024.6" width="20.45" height="10.8" rx="2.2" fill="none" stroke="#0c0c0c" stroke-width="0.82"/>
<ellipse cx="529.4" cy="1030" rx="2.4" ry="4.2" fill="none" stroke="#161616" stroke-width="0.95"/><ellipse cx="536.6" cy="1030" rx="3.7" ry="4.4" fill="none" stroke="#161616" stroke-width="0.95"/><ellipse cx="543.7" cy="1030" rx="2.4" ry="4.2" fill="none" stroke="#161616" stroke-width="0.95"/>
<rect x="531.25" y="1035.4" width="11.35" height="12.9" fill="#fff" stroke="#0c0c0c" stroke-width="0.82"/>
<line x1="625.5" y1="931.5" x2="625.5" y2="992.5" stroke="#0c0c0c" stroke-width="0.82"/>
<line x1="581.5" y1="947.5" x2="629" y2="1003.5" stroke="#0c0c0c" stroke-width="0.82"/>
<path d="M568.5 981 A60 60 0 0 1 656.5 949" fill="none" stroke="#0c0c0c" stroke-width="0.82"/>
<polygon points="586.5,954.5 574.4,964.2 578.6,967.8" fill="#0a0a0a"/>
<polygon points="625.5,940 641.95,939.8 641.05,945.2" fill="#0a0a0a"/>
<g transform="translate(599.9 942.2) rotate(-20)">
<text transform="scale(0.86 1)" x="-6.8 6.8 15.81" font-size="24" text-anchor="middle" fill="#050505" stroke="#fff" stroke-width="0.04">40°</text>
</g>
<line x1="507.1" y1="1035.8" x2="507.1" y2="1180" stroke="#0c0c0c" stroke-width="0.82"/>
<line x1="634.6" y1="995.5" x2="634.6" y2="1180" stroke="#0c0c0c" stroke-width="0.82"/>
<line x1="507.1" y1="1172.45" x2="634.6" y2="1172.45" stroke="#0c0c0c" stroke-width="0.82"/>
<polygon points="507.1,1172.45 522.7,1169.9 522.7,1175" fill="#0a0a0a"/>
<polygon points="634.6,1172.45 619,1175 619,1169.9" fill="#0a0a0a"/>
<g transform="translate(0 1168)">
<text transform="scale(0.86 1)" x="648.3 662.67 677.56" font-size="24" text-anchor="middle" fill="#050505" stroke="#fff" stroke-width="0.04">155</text>
<rect x="552.21" y="-2.24" width="4.8" height="2.84" fill="#fff"/>
<rect x="558.8" y="-2.24" width="4.42" height="2.84" fill="#fff"/>
</g>
</g>
</svg>
</body>
</html>
